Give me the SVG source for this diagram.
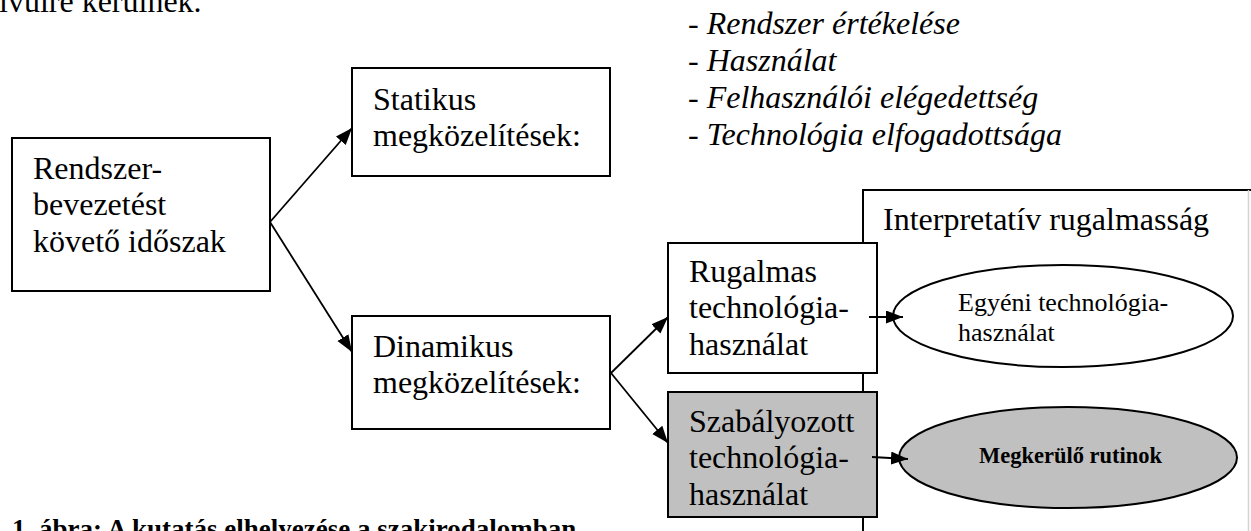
<svg xmlns="http://www.w3.org/2000/svg" width="1251" height="531" viewBox="0 0 1251 531">
<defs>
<style>
.t{font-family:"Liberation Serif","Times New Roman",serif;font-size:32px;fill:#000}
.i{font-style:italic}
.box{fill:#fff;stroke:#000;stroke-width:2}
.grey{fill:#c0c0c0}
.con{stroke:#000;stroke-width:1.8;fill:none;marker-end:url(#ah)}
</style>
<marker id="ah" markerUnits="userSpaceOnUse" markerWidth="20" markerHeight="14" refX="17" refY="6.5" orient="auto" viewBox="0 0 20 14">
<path d="M0,0 L17,6.5 L0,13 z" fill="#000"/>
</marker>
</defs>
<rect width="1251" height="531" fill="#fff"/>
<text class="t" x="-1" y="12">ívülre kerülnek.</text>
<g id="list">
<text class="t i" x="688" y="34">- Rendszer értékelése</text>
<text class="t i" x="688" y="71">- Használat</text>
<text class="t i" x="688" y="108">- Felhasználói elégedettség</text>
<text class="t i" x="688" y="145">- Technológia elfogadottsága</text>
</g>
<g id="interpretativ">
<path d="M863,540 V190 H1260" fill="#fff" stroke="#000" stroke-width="2"/>
<line x1="1248.5" y1="190" x2="1248.5" y2="531" stroke="#d4d4d4" stroke-width="1.5"/>
<text class="t" x="883" y="230">Interpretatív rugalmasság</text>
</g>
<g id="rendszer">
<rect class="box" x="12" y="138" width="258" height="153"/>
<text class="t" x="33" y="179">Rendszer-</text>
<text class="t" x="33" y="215">bevezetést</text>
<text class="t" x="33" y="252">követő időszak</text>
</g>
<g id="statikus">
<rect class="box" x="352" y="68" width="258" height="108"/>
<text class="t" x="373" y="110">Statikus</text>
<text class="t" x="373" y="146">megközelítések:</text>
</g>
<g id="dinamikus">
<rect class="box" x="352" y="316" width="258" height="113"/>
<text class="t" x="373" y="357">Dinamikus</text>
<text class="t" x="373" y="393">megközelítések:</text>
</g>
<g id="rugalmas">
<rect class="box" x="668" y="243" width="209" height="130"/>
<text class="t" x="689" y="282">Rugalmas</text>
<text class="t" x="689" y="318">technológia-</text>
<text class="t" x="689" y="355">használat</text>
</g>
<g id="szabalyozott">
<rect class="box grey" x="668" y="392" width="209" height="125"/>
<text class="t" x="689" y="432">Szabályozott</text>
<text class="t" x="689" y="468">technológia-</text>
<text class="t" x="689" y="505">használat</text>
</g>
<g id="egyeni">
<ellipse class="box" cx="1063" cy="316" rx="170" ry="51"/>
<text class="t" x="958" y="311" style="font-size:26px">Egyéni technológia-</text>
<text class="t" x="958" y="341" style="font-size:26px">használat</text>
</g>
<g id="megkerulo">
<ellipse class="box grey" cx="1068" cy="457.5" rx="169" ry="50.5"/>
<text class="t" x="979" y="463" style="font-size:22.5px;font-weight:bold">Megkerülő rutinok</text>
</g>
<g id="connectors">
<line class="con" x1="270" y1="222" x2="352" y2="128"/>
<line class="con" x1="270" y1="222" x2="352" y2="352"/>
<line class="con" x1="611" y1="373" x2="668" y2="317"/>
<line class="con" x1="611" y1="373" x2="668" y2="443"/>
<line class="con" x1="869" y1="317" x2="903" y2="317"/>
<line class="con" x1="872" y1="457" x2="908" y2="459"/>
</g>
<text class="t" x="12" y="538" style="font-size:27px;font-weight:bold">1. ábra: A kutatás elhelyezése a szakirodalomban</text>
</svg>
